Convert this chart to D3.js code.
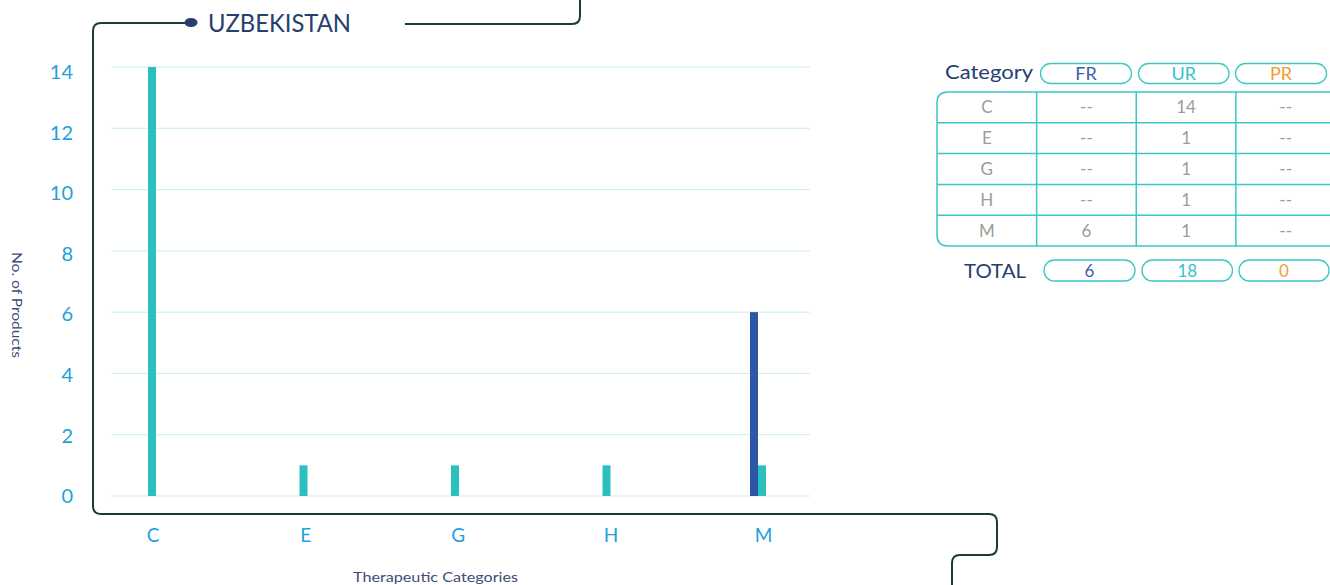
<!DOCTYPE html>
<html>
<head>
<meta charset="utf-8">
<script src="https://cdn.jsdelivr.net/npm/d3@7"></script>
<style>
  html, body { margin: 0; padding: 0; background: #ffffff; }
  svg { display: block; font-family: "Lato", "Open Sans", sans-serif; }
</style>
</head>
<body>
<svg id="chart" width="1330" height="585"></svg>
<script>
// ---- data ----
const title = "UZBEKISTAN";
const categories = ["C", "E", "G", "H", "M"];
const seriesNames = ["FR", "UR", "PR"];
const frValues = [0, 0, 0, 0, 6];
const urValues = [14, 1, 1, 1, 1];
const prValues = [0, 0, 0, 0, 0];
const yTickValues = [0, 2, 4, 6, 8, 10, 12, 14];
const yAxisTitle = "No. of Products";
const xAxisTitle = "Therapeutic Categories";
const tableHeader = "Category";
const totalLabel = "TOTAL";

// ---- styles ----
const colors = { FR: "#2b57a6", UR: "#2bbfc0", PR: "#f39a36" };
const textColors = { FR: "#3b5eaa", UR: "#35c3c5", PR: "#f39a36" };
const navy = "#25406e";
const tickBlue = "#229fdc";
const frameColor = "#1c3a3c";
const gridColor = "#c9eef0";
const tableStroke = "#3ec5c7";
const cellGray = "#9c9c9c";

const svg = d3.select("#chart");

// ---- scales ----
const y = d3.scaleLinear().domain([0, 14]).range([496, 67]);
const yLabel = d3.scaleLinear().domain([0, 14]).range([496.5, 72]);
const x = d3.scalePoint().domain(categories).range([152, 758]);
const xLabel = d3.scalePoint().domain(categories).range([152.5, 763]);
const gridX0 = 111, gridX1 = 810;
const barW = 8;

// ---- frame ----
const frame = svg.append("g").attr("fill", "none").attr("stroke", frameColor).attr("stroke-width", 2);
frame.append("path").attr("d",
  "M186,23 L101,23 Q93,23 93,31 L93,506 Q93,514 101,514 L989,514 Q997,514 997,522 L997,547 Q997,555 989,555 L960,555 Q952,555 952,563 L952,586");
frame.append("path").attr("d", "M405,24 L572,24 Q580,24 580,16 L580,-2");
svg.append("ellipse").attr("cx", 191).attr("cy", 22.5).attr("rx", 6.5).attr("ry", 4.5).attr("fill", navy);

svg.append("text").attr("x", 208).attr("y", 32).attr("font-size", 25)
  .attr("fill", navy).attr("textLength", 143).attr("lengthAdjust", "spacingAndGlyphs").text(title);

// ---- grid ----
svg.append("g").selectAll("line").data(yTickValues).join("line")
  .attr("x1", gridX0).attr("x2", gridX1)
  .attr("y1", d => y(d)).attr("y2", d => y(d))
  .attr("stroke", gridColor).attr("stroke-width", 1);

// ---- y axis ----
const yAxis = d3.axisLeft(yLabel).tickValues(yTickValues).tickSize(0).tickPadding(0);
const yg = svg.append("g").attr("transform", "translate(73,0)").call(yAxis);
yg.select(".domain").remove();
yg.selectAll("text").attr("font-size", 20).attr("fill", tickBlue).attr("font-family", "Lato, sans-serif");

svg.append("text").attr("transform", "translate(12,305) rotate(90)")
  .attr("text-anchor", "middle").attr("font-size", 13.5).attr("fill", "#3d4d78")
  .attr("textLength", 106).attr("lengthAdjust", "spacingAndGlyphs").text(yAxisTitle);

// ---- x axis ----
const xAxis = d3.axisBottom(xLabel).tickSize(0).tickPadding(0);
const xg = svg.append("g").attr("transform", "translate(0,528)").call(xAxis);
xg.select(".domain").remove();
xg.selectAll("text").attr("font-size", 19).attr("fill", tickBlue).attr("font-family", "Lato, sans-serif");

svg.append("text").attr("x", 435.5).attr("y", 582).attr("text-anchor", "middle")
  .attr("font-size", 14).attr("fill", "#3d4d78")
  .attr("textLength", 165).attr("lengthAdjust", "spacingAndGlyphs").text(xAxisTitle);

// ---- bars ----
const seriesValues = { FR: frValues, UR: urValues, PR: prValues };
const barData = [];
categories.forEach((c, i) => {
  const present = seriesNames.filter(s => seriesValues[s][i] > 0);
  const start = x(c) - present.length * barW / 2;
  present.forEach((s, k) => {
    barData.push({ cat: c, series: s, value: seriesValues[s][i], x0: start + k * barW });
  });
});
svg.append("g").selectAll("rect").data(barData).join("rect")
  .attr("x", d => d.x0).attr("width", barW)
  .attr("y", d => y(d.value)).attr("height", d => y(0) - y(d.value))
  .attr("fill", d => colors[d.series]);

// ---- table ----
const colX = d3.scaleBand().domain(["cat"].concat(seriesNames)).range([937, 1335.5]);
const rowY = d3.scaleBand().domain(categories).range([92, 246]);
const tbl = svg.append("g");

// header
tbl.append("text").attr("x", 945).attr("y", 79)
  .attr("font-size", 19).attr("fill", navy)
  .attr("textLength", 88).attr("lengthAdjust", "spacingAndGlyphs").text(tableHeader);
const headerPill = { FR: [1040.5, 1131.5], UR: [1138.5, 1229], PR: [1235.5, 1326.5] };
seriesNames.forEach(s => {
  const [a, b] = headerPill[s];
  tbl.append("rect").attr("x", a).attr("y", 63.5).attr("width", b - a).attr("height", 20)
    .attr("rx", 10).attr("fill", "none").attr("stroke", tableStroke).attr("stroke-width", 1.3);
  tbl.append("text").attr("x", (a + b) / 2).attr("y", 80).attr("text-anchor", "middle")
    .attr("font-size", 18).attr("fill", textColors[s]).text(s);
});

// body outline
const bx0 = colX.range()[0], bx1 = colX.range()[1];
const by0 = rowY.range()[0], by1 = rowY.range()[1];
const r = 11;
tbl.append("path").attr("fill", "none").attr("stroke", tableStroke).attr("stroke-width", 1.5)
  .attr("d", `M${bx1},${by0} L${bx0 + r},${by0} Q${bx0},${by0} ${bx0},${by0 + r} L${bx0},${by1 - r} Q${bx0},${by1} ${bx0 + r},${by1} L${bx1},${by1}`);
tbl.append("g").selectAll("line").data(categories.slice(1)).join("line")
  .attr("x1", bx0).attr("x2", bx1).attr("y1", d => rowY(d)).attr("y2", d => rowY(d))
  .attr("stroke", tableStroke).attr("stroke-width", 1.5);
tbl.append("g").selectAll("line").data(seriesNames).join("line")
  .attr("x1", d => colX(d)).attr("x2", d => colX(d)).attr("y1", by0).attr("y2", by1)
  .attr("stroke", tableStroke).attr("stroke-width", 1.5);

// cell texts
categories.forEach((c, i) => {
  const cy = rowY(c) + rowY.bandwidth() / 2 + 6;
  tbl.append("text").attr("x", colX("cat") + colX.bandwidth() / 2).attr("y", cy)
    .attr("text-anchor", "middle").attr("font-size", 17).attr("fill", cellGray).text(c);
  seriesNames.forEach(s => {
    const v = seriesValues[s][i];
    tbl.append("text").attr("x", colX(s) + colX.bandwidth() / 2).attr("y", cy)
      .attr("text-anchor", "middle").attr("font-size", 17).attr("fill", cellGray)
      .text(v > 0 ? v : "--");
  });
});

// totals
tbl.append("text").attr("x", 964).attr("y", 278)
  .attr("font-size", 19).attr("fill", navy)
  .attr("textLength", 62).attr("lengthAdjust", "spacingAndGlyphs").text(totalLabel);
const totalPill = { FR: [1044, 1135], UR: [1142, 1232.5], PR: [1239, 1329] };
seriesNames.forEach(s => {
  const [a, b] = totalPill[s];
  const total = d3.sum(seriesValues[s]);
  tbl.append("rect").attr("x", a).attr("y", 260).attr("width", b - a).attr("height", 21)
    .attr("rx", 10.5).attr("fill", "none").attr("stroke", tableStroke).attr("stroke-width", 1.3);
  tbl.append("text").attr("x", (a + b) / 2).attr("y", 277).attr("text-anchor", "middle")
    .attr("font-size", 17).attr("fill", textColors[s]).text(total);
});
</script>
</body>
</html>
